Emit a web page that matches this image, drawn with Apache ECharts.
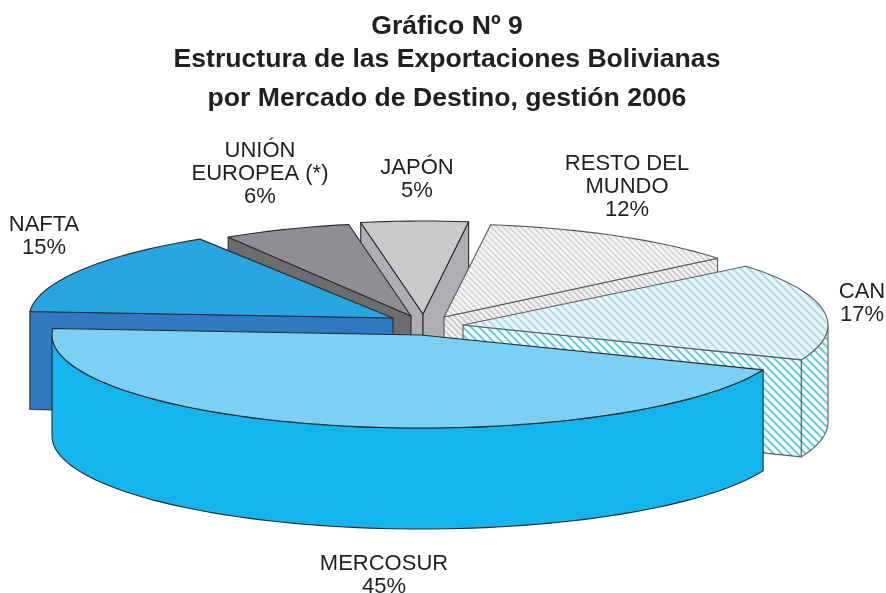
<!DOCTYPE html>
<html>
<head>
    <meta charset="utf-8" />
    <title>Estructura de las Exportaciones Bolivianas</title>
    <script src="https://cdn.jsdelivr.net/npm/echarts@6/dist/echarts.min.js"></script>
    <style>
        html, body { margin: 0; padding: 0; background: #fff; }
    </style>
</head>
<body>
    <div id="echart" style="width:886px;height:593px;"></div>
<script>
    // data
    var categories = ['MERCOSUR', 'NAFTA', 'UNIÓN\nEUROPEA (*)', 'JAPÓN', 'RESTO DEL\nMUNDO', 'CAN'];
    var shares = [45, 15, 6, 5, 12, 17];
    var titleLines = ['Gráfico Nº 9', 'Estructura de las Exportaciones Bolivianas', 'por Mercado de Destino, gestión 2006'];

    // layout of the tilted pie
    var center = [423, 323];
    var ry = 93;
    var startAngle = 22;
    var sliceRadius = [369, 364, 345, 345, 353, 365];
    var sliceDepth = [101, 98, 98, 98, 98, 97];
    var sliceShift = [[-2, 12], [-30, -5], [-12, -7], [0, -9], [21, -6], [40, 2]];
    var labelPos = [[384, 575], [44, 236], [260, 174], [417, 179], [627, 187], [862, 303]];

    function hatch(size, width, back, line) {
        var c = document.createElement('canvas');
        c.width = c.height = size;
        var g = c.getContext('2d');
        g.fillStyle = back;
        g.fillRect(0, 0, size, size);
        g.strokeStyle = line;
        g.lineWidth = width;
        [-size, 0, size].forEach(function (o) {
            g.beginPath();
            g.moveTo(o - 1, -1);
            g.lineTo(o + size + 1, size + 1);
            g.stroke();
        });
        return { image: c, repeat: 'repeat' };
    }

    var topColors = ['#7bd0f3', '#27a6e1', '#8e8f95', '#c8c9cb', hatch(6, 1.6, '#f6f6f6', '#d2d3d5'), hatch(8, 2.2, '#f0f6f7', '#a9deee')];
    var sideColors = ['#14b5ec', '#2f79c1', '#6d6c6f', '#aeafb2', hatch(6, 1.6, '#f3f3f3', '#c6c7c9'), hatch(8, 2, '#f7fbfc', '#6cc9e3')];
    var edgeColors = ['#2b2b2d', '#2b2b2d', '#2b2b2d', '#2b2b2d', '#565759', '#5e6062'];

    // start and end angle of every slice, clockwise from east
    var angles = [];
    var run = startAngle;
    shares.forEach(function (v) {
        angles.push([run, run + v * 3.6]);
        run += v * 3.6;
    });

    function rad(a) { return a * Math.PI / 180; }

    function rimPoint(apex, rx, a, drop) {
        return [apex[0] + rx * Math.cos(rad(a)), apex[1] + ry * Math.sin(rad(a)) + drop];
    }

    function arc(apex, rx, a0, a1, drop) {
        var pts = [];
        var n = Math.max(2, Math.ceil((a1 - a0) / 2));
        for (var i = 0; i <= n; i++) {
            pts.push(rimPoint(apex, rx, a0 + (a1 - a0) * i / n, drop));
        }
        return pts;
    }

    function face(points, fill, edge, z) {
        return {
            type: 'polygon',
            z2: z,
            shape: { points: points },
            style: { fill: fill, stroke: edge, lineWidth: 1.1, lineJoin: 'round' }
        };
    }

    function renderSlice(params, api) {
        var i = api.value(1);
        var a0 = angles[i][0], a1 = angles[i][1];
        var rx = sliceRadius[i], depth = sliceDepth[i];
        var apex = [center[0] + sliceShift[i][0], center[1] + sliceShift[i][1]];
        var items = [];

        function radialWall(a) {
            var end = rimPoint(apex, rx, a, 0);
            return face([apex, end, [end[0], end[1] + depth], [apex[0], apex[1] + depth]], sideColors[i], edgeColors[i], 1);
        }

        // radial sides, only the ones turned to the viewer
        if (Math.cos(rad(a0)) < 0) items.push(radialWall(a0));
        if (Math.cos(rad(a1)) > 0) items.push(radialWall(a1));
        // outer side, only the front half of the ellipse
        [0, 360].forEach(function (base) {
            var from = Math.max(a0, base), to = Math.min(a1, base + 180);
            if (to > from) {
                items.push(face(arc(apex, rx, from, to, 0).concat(arc(apex, rx, from, to, depth).reverse()), sideColors[i], edgeColors[i], 2));
            }
        });
        items.push(face([apex].concat(arc(apex, rx, a0, a1, 0)), topColors[i], edgeColors[i], 3));
        return { type: 'group', children: items };
    }

    // back slices first, the front one paints last
    var drawOrder = shares.map(function (v, i) { return i; }).sort(function (p, q) {
        return Math.sin(rad((angles[p][0] + angles[p][1]) / 2)) - Math.sin(rad((angles[q][0] + angles[q][1]) / 2));
    });

    var myChart = echarts.init(document.getElementById('echart'));

    var titleY = [22, 55, 94];
    var option = {
        animation: false,
        backgroundColor: '#fff',
        title: titleLines.map(function (t, i) {
            return {
                text: t,
                left: 442,
                top: titleY[i],
                textAlign: 'center',
                textVerticalAlign: 'middle',
                textStyle: { fontFamily: 'Liberation Sans', fontSize: 26.6, fontWeight: 'bold', color: '#231f20' }
            };
        }),
        series: [{
            type: 'custom',
            coordinateSystem: 'none',
            silent: true,
            renderItem: renderSlice,
            data: drawOrder.map(function (i) { return [shares[i], i]; })
        }],
        graphic: categories.map(function (c, i) {
            return {
                type: 'text',
                x: labelPos[i][0],
                y: labelPos[i][1],
                z: 10,
                style: {
                    text: c + '\n' + shares[i] + '%',
                    align: 'center',
                    verticalAlign: 'middle',
                    fontFamily: 'Liberation Sans',
                    fontSize: 22,
                    lineHeight: 23,
                    fill: '#231f20'
                }
            };
        })
    };
    myChart.setOption(option);
</script>
</body>
</html>
